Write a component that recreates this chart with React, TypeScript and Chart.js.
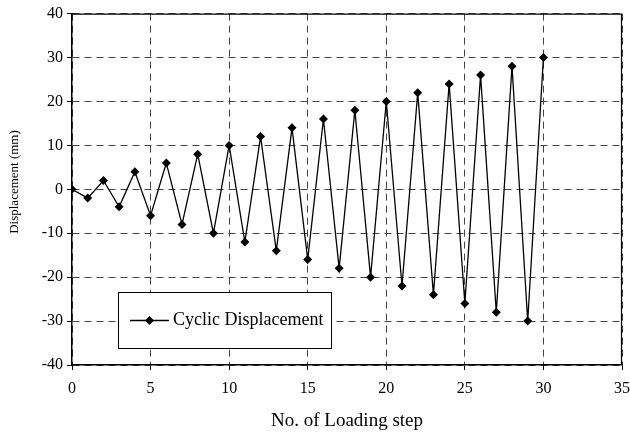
import React, { useEffect, useRef } from "react";
import { Chart, registerables } from "chart.js";

Chart.register(...registerables);

const steps = [0, 1, 2, 3, 4, 5, 6, 7, 8, 9, 10, 11, 12, 13, 14, 15, 16, 17, 18, 19, 20, 21, 22, 23, 24, 25, 26, 27, 28, 29, 30];
const displacement = [0, -2, 2, -4, 4, -6, 6, -8, 8, -10, 10, -12, 12, -14, 14, -16, 16, -18, 18, -20, 20, -22, 22, -24, 24, -26, 26, -28, 28, -30, 30];
const seriesLabel = "Cyclic Displacement";
const xTitle = "No. of Loading step";
const yTitle = "Displacement (mm)";

const FONT = "'Liberation Serif', 'Times New Roman', serif";

const framePlugin = {
  id: "frame",
  afterDraw(chart: any) {
    const { ctx, chartArea } = chart;
    ctx.save();
    ctx.strokeStyle = "#000";
    ctx.lineWidth = 1.2;
    ctx.beginPath();
    ctx.moveTo(chartArea.left, chartArea.top + 0.5);
    ctx.lineTo(chartArea.right, chartArea.top + 0.5);
    ctx.moveTo(chartArea.right - 0.5, chartArea.top);
    ctx.lineTo(chartArea.right - 0.5, chartArea.bottom);
    ctx.stroke();
    // y-axis title
    ctx.save();
    ctx.translate(15, 182);
    ctx.rotate(-Math.PI / 2);
    ctx.font = `13px ${FONT}`;
    ctx.fillStyle = "#000";
    ctx.textAlign = "center";
    ctx.textBaseline = "middle";
    ctx.fillText(yTitle, 0, 0);
    ctx.restore();
    // legend box
    const bx = 118, by = 292, bw = 213, bh = 56;
    ctx.fillStyle = "#fff";
    ctx.fillRect(bx, by, bw, bh);
    ctx.strokeStyle = "#000";
    ctx.lineWidth = 1;
    ctx.strokeRect(bx + 0.5, by + 0.5, bw, bh);
    const cy = 320.5;
    ctx.beginPath();
    ctx.lineWidth = 1.3;
    ctx.moveTo(130, cy);
    ctx.lineTo(169, cy);
    ctx.stroke();
    ctx.fillStyle = "#000";
    ctx.beginPath();
    const mx = 149.5;
    ctx.moveTo(mx, cy - 4.5);
    ctx.lineTo(mx + 4.5, cy);
    ctx.lineTo(mx, cy + 4.5);
    ctx.lineTo(mx - 4.5, cy);
    ctx.closePath();
    ctx.fill();
    ctx.font = `18px ${FONT}`;
    ctx.textBaseline = "middle";
    ctx.textAlign = "left";
    ctx.fillText(seriesLabel, 173, cy);
    ctx.restore();
  },
};

export default function App() {
  const ref = useRef<HTMLCanvasElement | null>(null);
  useEffect(() => {
    document.body.style.margin = "0";
    const chart = new Chart(ref.current as HTMLCanvasElement, {
      type: "line",
      data: {
        datasets: [
          {
            label: seriesLabel,
            data: steps.map((s, i) => ({ x: s, y: displacement[i] })),
            borderColor: "#000",
            backgroundColor: "#000",
            borderWidth: 1.3,
            pointStyle: "rectRot",
            pointRadius: 4.5,
            pointBackgroundColor: "#000",
            pointBorderColor: "#000",
            pointBorderWidth: 0,
            tension: 0,
          },
        ],
      },
      options: {
        responsive: false,
        animation: false,
        layout: { padding: { top: 12, right: 8, left: 0, bottom: 0 } },
        plugins: { legend: { display: false }, tooltip: { enabled: false } },
        scales: {
          x: {
            type: "linear",
            min: 0,
            max: 35,
            ticks: { stepSize: 5, color: "#000", font: { family: FONT, size: 16, lineHeight: 2.4 }, padding: 0, maxRotation: 0 },
            grid: { color: "#444", lineWidth: 1, tickLength: 5, tickColor: "#000", tickBorderDash: [], drawTicks: true },
            border: { display: true, color: "#000", width: 1.5, dash: [7, 5] },
            title: { display: true, text: xTitle, color: "#000", font: { family: FONT, size: 19 }, padding: { top: 4, bottom: 0 } },
            afterFit: (scale: any) => { scale.height = 67; },
          },
          y: {
            type: "linear",
            min: -40,
            max: 40,
            ticks: { stepSize: 10, color: "#000", font: { family: FONT, size: 16 }, padding: 4 },
            grid: { color: "#444", lineWidth: 1, tickLength: 5, tickColor: "#000", tickBorderDash: [], drawTicks: true },
            border: { display: true, color: "#000", width: 1.5, dash: [7, 5] },
            title: { display: false },
            afterFit: (scale: any) => { scale.width = 72; },
          },
        },
      } as any,
      plugins: [framePlugin],
    });
    return () => chart.destroy();
  }, []);
  return (
    <div style={{ position: "fixed", left: 0, top: 0, width: 630, height: 432, background: "#fff" }}>
      <canvas ref={ref} width={630} height={432} style={{ width: 630, height: 432 }} />
    </div>
  );
}
